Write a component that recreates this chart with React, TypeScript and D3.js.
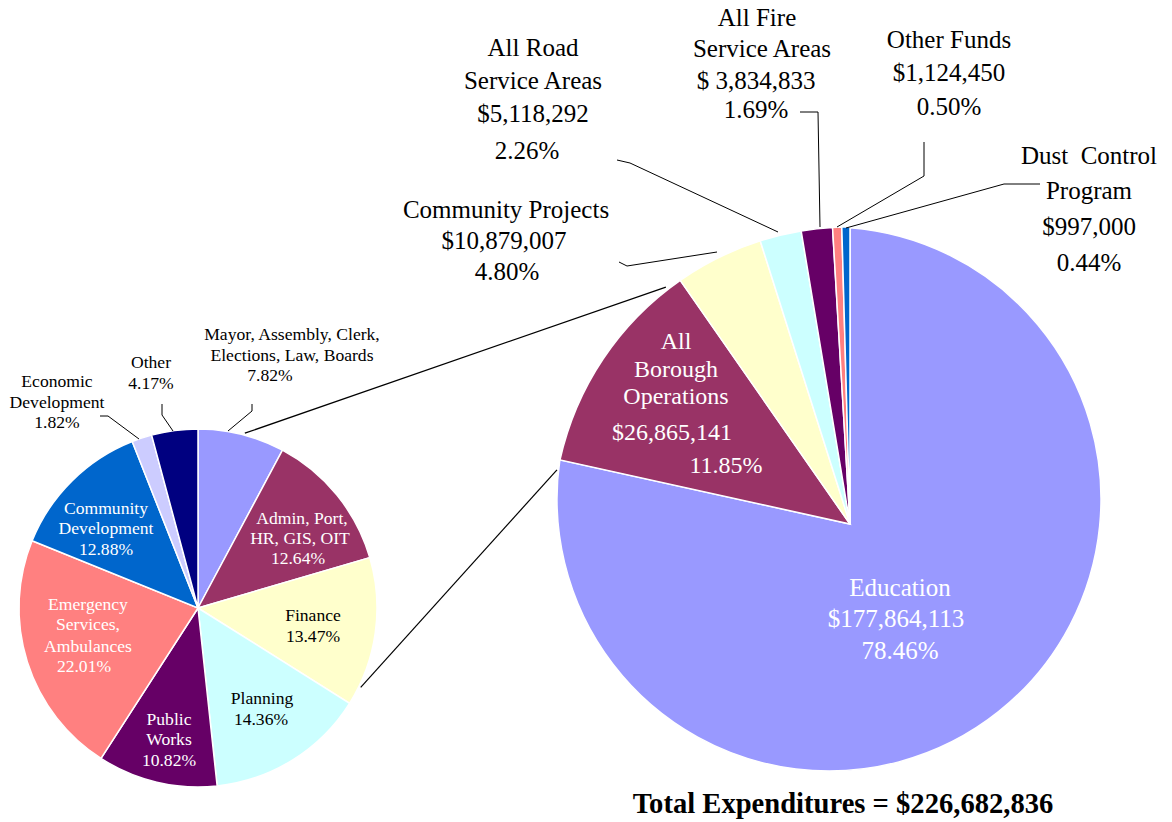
import React from "react";
import * as d3 from "d3";

// ---------- DATA ----------
const bigCategories = [
  "Education",
  "All Borough Operations",
  "Community Projects",
  "All Road Service Areas",
  "All Fire Service Areas",
  "Other Funds",
  "Dust Control Program",
];
const bigValues = [177864113, 26865141, 10879007, 5118292, 3834833, 1124450, 997000];
const bigColors = ["#9999FF", "#993366", "#FFFFCC", "#CCFFFF", "#660066", "#FF8080", "#0066CC"];
const bigLabelLines = [
  ["Education", "$177,864,113", "78.46%"],
  ["All", "Borough", "Operations", "$26,865,141", "11.85%"],
  ["Community Projects", "$10,879,007", "4.80%"],
  ["All Road", "Service Areas", "$5,118,292", "2.26%"],
  ["All Fire", "Service Areas", "$ 3,834,833", "1.69%"],
  ["Other Funds", "$1,124,450", "0.50%"],
  ["Dust  Control", "Program", "$997,000", "0.44%"],
];

const smallCategories = [
  "Mayor, Assembly, Clerk, Elections, Law, Boards",
  "Admin, Port, HR, GIS, OIT",
  "Finance",
  "Planning",
  "Public Works",
  "Emergency Services, Ambulances",
  "Community Development",
  "Economic Development",
  "Other",
];
const smallPercents = [7.82, 12.64, 13.47, 14.36, 10.82, 22.01, 12.88, 1.82, 4.17];
const smallColors = ["#9999FF", "#993366", "#FFFFCC", "#CCFFFF", "#660066", "#FF8080", "#0066CC", "#CCCCFF", "#000080"];
const smallLabelLines = [
  ["Mayor, Assembly, Clerk,", "Elections, Law, Boards", "7.82%"],
  ["Admin, Port,", "HR, GIS, OIT", "12.64%"],
  ["Finance", "13.47%"],
  ["Planning", "14.36%"],
  ["Public", "Works", "10.82%"],
  ["Emergency", "Services,", "Ambulances", "22.01%"],
  ["Community", "Development", "12.88%"],
  ["Economic", "Development", "1.82%"],
  ["Other", "4.17%"],
];

const totalLabel = "Total Expenditures = $226,682,836";

// ---------- LAYOUT ----------
const FONT = "'Liberation Serif', 'Times New Roman', serif";
const V = { x: 850, y: 524 }; // vertex of big pie
const R_BIG = 297;
const C_EDU = { x: 829, y: 499 }; // outer circle of education slice
const R_EDU = 272;
const SMALL = { x: 198, y: 608, r: 179 };

const bigLabelPos = [
  { size: 25, fill: "#fff", pts: [[900, 587], [896, 618], [900, 650]] },
  { size: 24, fill: "#fff", pts: [[676, 341], [676, 369], [676, 396], [672, 432], [726, 465]] },
  { size: 25, fill: "#000", pts: [[506, 209], [504, 240], [507, 271]] },
  { size: 25, fill: "#000", pts: [[533, 47], [533, 80], [533, 113], [527, 150]] },
  { size: 25, fill: "#000", pts: [[757, 17], [762, 48], [756, 80], [756, 109]] },
  { size: 25, fill: "#000", pts: [[949, 39], [949, 72], [949, 106]] },
  { size: 25, fill: "#000", pts: [[1089, 155], [1089, 190], [1089, 226], [1089, 262]] },
];
const bigLeaders: (number[][] | null)[] = [
  null,
  null,
  [[619, 262], [627, 266], [717, 252]],
  [[617, 160], [630, 163], [778, 232]],
  [[800, 112], [818, 112], [820, 227]],
  [[924, 142], [924, 176], [837, 227]],
  [[1040, 184], [1004, 184], [846, 228]],
];

const smallLabelPos = [
  { fill: "#000", pts: [[292, 334], [292, 355], [270, 375]] },
  { fill: "#fff", pts: [[302, 518], [300, 538], [298, 558]] },
  { fill: "#000", pts: [[313, 615], [313, 636]] },
  { fill: "#000", pts: [[262, 698], [261, 719]] },
  { fill: "#fff", pts: [[169, 719], [169, 739], [169, 760]] },
  { fill: "#fff", pts: [[88, 604], [88, 624], [88, 646], [84, 666]] },
  { fill: "#fff", pts: [[106, 508], [106, 528], [106, 549]] },
  { fill: "#000", pts: [[57, 381], [57, 402], [57, 422]] },
  { fill: "#000", pts: [[151, 362], [151, 383]] },
];
const smallLeaders: (number[][] | null)[] = [
  [[252, 404], [252, 411], [228, 431]],
  null, null, null, null, null, null,
  [[100, 416], [108, 416], [139, 439]],
  [[162, 404], [162, 415], [173, 431]],
];

const deg = Math.PI / 180;

function eduRimPoint(theta: number) {
  const ux = Math.sin(theta);
  const uy = -Math.cos(theta);
  const wx = V.x - C_EDU.x;
  const wy = V.y - C_EDU.y;
  const b = wx * ux + wy * uy;
  const c = wx * wx + wy * wy - R_EDU * R_EDU;
  const t = -b + Math.sqrt(b * b - c);
  return [V.x + t * ux, V.y + t * uy];
}

export default function App() {
  const pie = d3.pie<number>().sort(null).value((d) => d);
  const bigArcs = pie(bigValues);
  const smallArcs = pie(smallPercents);
  const arcBig = d3.arc<d3.PieArcDatum<number>>().innerRadius(0).outerRadius(R_BIG);
  const arcSmall = d3.arc<d3.PieArcDatum<number>>().innerRadius(0).outerRadius(SMALL.r);
  const line = d3.line();

  const edu = bigArcs[0];
  const p0 = eduRimPoint(edu.startAngle);
  const p1 = eduRimPoint(edu.endAngle);
  const eduPath = `M${V.x},${V.y}L${p0[0]},${p0[1]}A${R_EDU},${R_EDU} 0 1 1 ${p1[0]},${p1[1]}Z`;

  const bor = bigArcs[1];
  const polar = (cx: number, cy: number, r: number, a: number) => [cx + r * Math.sin(a), cy - r * Math.cos(a)];
  const conn1 = [polar(SMALL.x, SMALL.y, SMALL.r + 2, 15 * deg), polar(V.x, V.y, R_BIG + 3, bor.endAngle - 3 * deg)];
  const conn2 = [polar(SMALL.x, SMALL.y, SMALL.r + 2, 116 * deg), polar(V.x, V.y, R_BIG + 1, bor.startAngle - 2 * deg)];

  return (
    <svg
      width={1172}
      height={822}
      style={{ position: "absolute", left: 0, top: 0, background: "#fff" }}
      fontFamily={FONT}
    >
      <path d={eduPath} fill={bigColors[0]} stroke="#fff" strokeWidth={1.5} />
      <g transform={`translate(${V.x},${V.y})`}>
        {bigArcs.slice(1).map((a, i) => (
          <path key={bigCategories[i + 1]} d={arcBig(a) || ""} fill={bigColors[i + 1]} stroke="#fff" strokeWidth={1.5} />
        ))}
      </g>

      <g transform={`translate(${SMALL.x},${SMALL.y})`}>
        {smallArcs.map((a, i) => (
          <path key={smallCategories[i]} d={arcSmall(a) || ""} fill={smallColors[i]} stroke="#fff" strokeWidth={1.5} />
        ))}
      </g>

      <path d={line(conn1 as [number, number][]) || ""} stroke="#000" strokeWidth={1.2} fill="none" />
      <path d={line(conn2 as [number, number][]) || ""} stroke="#000" strokeWidth={1.2} fill="none" />

      {bigLeaders.map((pts, i) =>
        pts ? <path key={"bl" + i} d={line(pts as [number, number][]) || ""} stroke="#000" strokeWidth={1} fill="none" /> : null
      )}
      {smallLeaders.map((pts, i) =>
        pts ? <path key={"sl" + i} d={line(pts as [number, number][]) || ""} stroke="#000" strokeWidth={1} fill="none" /> : null
      )}

      {bigLabelLines.map((lines, i) =>
        lines.map((t, j) => (
          <text
            key={`b${i}-${j}`}
            x={bigLabelPos[i].pts[j][0]}
            y={bigLabelPos[i].pts[j][1]}
            dy="0.35em"
            textAnchor="middle"
            fontSize={bigLabelPos[i].size}
            fill={bigLabelPos[i].fill}
            style={{ whiteSpace: "pre" }}
          >
            {t}
          </text>
        ))
      )}

      {smallLabelLines.map((lines, i) =>
        lines.map((t, j) => (
          <text
            key={`s${i}-${j}`}
            x={smallLabelPos[i].pts[j][0]}
            y={smallLabelPos[i].pts[j][1]}
            dy="0.35em"
            textAnchor="middle"
            fontSize={17.6}
            fill={smallLabelPos[i].fill}
          >
            {t}
          </text>
        ))
      )}

      <text x={843} y={803} dy="0.35em" textAnchor="middle" fontSize={28.6} fontWeight="bold" fill="#000">
        {totalLabel}
      </text>
    </svg>
  );
}
